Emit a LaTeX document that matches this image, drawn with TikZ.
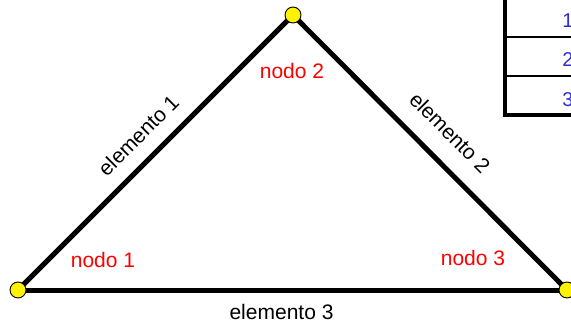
\documentclass[tikz,border=0pt]{standalone}
\usepackage{fontspec}
\setmainfont{Liberation Sans}
\usetikzlibrary{positioning}

\definecolor{numblue}{RGB}{45,45,210}
\pgfdeclarelayer{background}
\pgfsetlayers{background,main}

\begin{document}
\begin{tikzpicture}[
    x=1pt, y=-1pt,
    nodo/.style={draw, circle, fill=yellow, line width=0.9pt, minimum size=16pt, inner sep=0pt},
    elem/.style={line width=5pt},
    lbl/.style={text=red, font=\fontsize{21}{24}\selectfont},
    elbl/.style={font=\fontsize{21}{24}\selectfont, sloped},
    cell/.style={draw, line width=0.9pt, minimum width=126pt, minimum height=38.5pt, inner sep=0pt, text height=21pt, text=numblue, font=\fontsize{20}{24}\selectfont},
    border/.style={line width=4pt}
]
    \useasboundingbox (0,0) rectangle (571,329);

    % Nodes of the mesh
    \node (n1) [nodo] at (18,290) {};
    \node (n2) [nodo] at (293,15) {};
    \node (n3) [nodo] at (567,290) {};

    \node (t1) [lbl] at (103,260) {nodo 1};
    \node (t2) [lbl] at (292,71) {nodo 2};
    \node (t3) [lbl] at (473,258) {nodo 3};

    % Elements
    \begin{pgfonlayer}{background}
    \draw [elem] (n1.center) -- node[elbl, midway, above, inner sep=14pt] {elemento 1} (n2.center);
    \draw [elem] (n2.center) -- node[elbl, midway, above, inner sep=18pt] {elemento 2} (n3.center);
    \draw [elem] (n1.center) -- node[elbl, pos=0.48, below, inner sep=12pt] {elemento 3} (n3.center);
    \end{pgfonlayer}

    % Node table (cut by the page)
    \node (c1) [cell] at (568,17) {1};
    \node (c2) [cell, below=0pt of c1] {2};
    \node (c3) [cell, below=0pt of c2] {3};
    \draw [border] (c1.north west) -- (c3.south west) -- (c3.south east);
\end{tikzpicture}
\end{document}
